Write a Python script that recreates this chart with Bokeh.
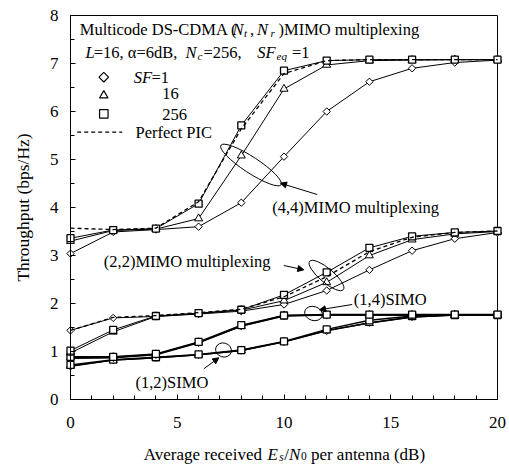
from bokeh.plotting import figure
from bokeh.models import Range1d, FixedTicker, Label, Arrow, NormalHead
from bokeh.embed import file_html
from bokeh.resources import INLINE

# ---------------- data ----------------
snr_db = [0, 2, 4, 6, 8, 10, 12, 14, 16, 18, 20]

mimo44_sf1 = [3.04, 3.49, 3.54, 3.60, 4.10, 5.06, 6.00, 6.62, 6.90, 7.02, 7.07]
mimo44_sf16 = [3.30, 3.52, 3.55, 3.77, 5.08, 6.47, 6.97, 7.06, 7.07, 7.08, 7.08]
mimo44_sf256 = [3.36, 3.53, 3.56, 4.08, 5.71, 6.85, 7.06, 7.08, 7.08, 7.08, 7.08]
mimo44_pic = [3.57, 3.54, 3.57, 4.12, 5.64, 6.79, 7.06, 7.08, 7.08, 7.08, 7.08]

mimo22_sf1 = [1.44, 1.70, 1.73, 1.78, 1.84, 1.98, 2.27, 2.70, 3.10, 3.35, 3.48]
mimo22_sf16 = [0.97, 1.41, 1.73, 1.79, 1.86, 2.06, 2.44, 3.00, 3.33, 3.45, 3.50]
mimo22_sf256 = [1.02, 1.45, 1.74, 1.80, 1.87, 2.18, 2.65, 3.16, 3.40, 3.48, 3.51]
mimo22_pic = [1.44, 1.71, 1.75, 1.81, 1.88, 2.14, 2.56, 3.08, 3.38, 3.48, 3.51]

simo14_sf1 = [0.86, 0.87, 0.93, 1.18, 1.53, 1.74, 1.76, 1.76, 1.76, 1.76, 1.76]
simo14_sf16 = [0.87, 0.88, 0.94, 1.19, 1.53, 1.75, 1.76, 1.76, 1.76, 1.76, 1.76]
simo14_sf256 = [0.89, 0.89, 0.95, 1.20, 1.55, 1.75, 1.77, 1.77, 1.77, 1.77, 1.77]

simo12_sf1 = [0.69, 0.82, 0.87, 0.93, 1.02, 1.20, 1.43, 1.60, 1.72, 1.76, 1.76]
simo12_sf16 = [0.70, 0.82, 0.87, 0.93, 1.02, 1.20, 1.44, 1.59, 1.72, 1.76, 1.76]
simo12_sf256 = [0.72, 0.83, 0.88, 0.94, 1.03, 1.21, 1.46, 1.65, 1.74, 1.76, 1.76]

x_major = [0, 5, 10, 15, 20]
x_minor = list(range(0, 21))
y_major = [0, 1, 2, 3, 4, 5, 6, 7, 8]
y_minor = [i * 0.5 for i in range(17)]

FONT = "Liberation Serif"

# ---------------- layout geometry (pixels) ----------------
W, H = 509, 464
PX_X = 21.35   # pixels per dB
PX_Y = 48.0    # pixels per bps/Hz
X0 = 70        # pixel column of 0 dB
Y0 = 399       # pixel row of 0 bps/Hz
TEXT_SHIFT = 5.5  # compensation for where Bokeh puts the text baseline

# the frame covers the whole canvas; the axes are pinned at 0
p = figure(width=W, height=H,
           x_range=Range1d(-X0 / PX_X, (W - X0) / PX_X),
           y_range=Range1d((Y0 - H) / PX_Y, Y0 / PX_Y),
           output_backend="svg", toolbar_location=None,
           min_border_left=0, min_border_right=0, min_border_top=0, min_border_bottom=0)
p.background_fill_color = "white"
p.border_fill_color = "white"
p.outline_line_color = None
p.xgrid.visible = False
p.ygrid.visible = False

for ax in (p.xaxis[0], p.yaxis[0]):
    ax.axis_line_color = "black"
    ax.major_tick_line_color = "black"
    ax.minor_tick_line_color = "black"
    ax.major_tick_in = 5
    ax.major_tick_out = 0
    ax.minor_tick_in = 4
    ax.minor_tick_out = 0
    ax.major_label_text_font = FONT
    ax.major_label_text_font_size = "17px"
    ax.major_label_text_color = "black"

p.xaxis.ticker = FixedTicker(ticks=x_major, minor_ticks=x_minor)
p.yaxis.ticker = FixedTicker(ticks=y_major, minor_ticks=y_minor)
p.xaxis.fixed_location = 0
p.yaxis.fixed_location = 0
p.xaxis.bounds = (0, 20)
p.yaxis.bounds = (0, 8)
p.xaxis.major_label_standoff = 17
p.yaxis.major_label_standoff = 12
p.yaxis.axis_label = "Throughput (bps/Hz)"
p.yaxis.axis_label_text_font = FONT
p.yaxis.axis_label_text_font_size = "17.5px"
p.yaxis.axis_label_text_font_style = "normal"
p.yaxis.axis_label_text_color = "black"
p.yaxis.axis_label_standoff = 14

# frame border (top and right)
p.line([0, 20], [8, 8], line_color="black", line_width=1)
p.line([20, 20], [0, 8], line_color="black", line_width=1)

# pixel -> data helpers for annotations
def X(px):
    return (px - X0) / PX_X

def Y(py):
    return (Y0 - py) / PX_Y

DIAMOND = dict(marker="square", angle=0.785398)

def series(vals, kind, lw=1.0):
    p.line(snr_db, vals, line_color="black", line_width=lw)
    if kind == "d":
        p.scatter(snr_db, vals, size=5.2, fill_color="white", line_color="black", line_width=1, **DIAMOND)
    elif kind == "t":
        p.scatter(snr_db, vals, marker="triangle", size=8, fill_color="white", line_color="black", line_width=1)
    else:
        p.scatter(snr_db, vals, marker="square", size=7, fill_color="white", line_color="black", line_width=1.3)

for grp, lw in [((simo12_sf1, simo12_sf16, simo12_sf256), 1.4), ((simo14_sf1, simo14_sf16, simo14_sf256), 1.4),
                ((mimo22_sf1, mimo22_sf16, mimo22_sf256), 1.0), ((mimo44_sf1, mimo44_sf16, mimo44_sf256), 1.0)]:
    series(grp[0], "d", lw)
    series(grp[1], "t", lw)
    series(grp[2], "s", lw)

for pic in (mimo22_pic, mimo44_pic):
    p.line(snr_db, pic, line_color="black", line_width=1.3, line_dash="4 3")

# ---------------- texts ----------------
def put(text, px, py, size=16.5, italic=False):
    p.add_layout(Label(x=X(px), y=Y(py - TEXT_SHIFT), text=text, text_font=FONT,
                       text_font_size=f"{size}px",
                       text_font_style="italic" if italic else "normal",
                       text_color="black", text_baseline="alphabetic", text_align="left"))

SUB = 11.0
# line 1
put("Multicode DS-CDMA (", 79.3, 34)
put("N", 232, 34, italic=True)
put("t", 243.5, 38, size=SUB, italic=True)
put(",", 249.5, 34)
put("N", 256.5, 34, italic=True)
put("r", 270, 38, size=SUB, italic=True)
put(")MIMO multiplexing", 278, 34)
# line 2
put("L", 85, 57, italic=True)
put("=16, \u03b1=6dB,", 93.3, 57)
put("N", 185, 57, italic=True)
put("c", 197, 61, size=SUB, italic=True)
put("=256,", 203, 57)
put("SF", 256.7, 57, italic=True)
put("eq", 276, 61, size=SUB, italic=True)
put("=1", 291.5, 57)
# legend
put("SF", 133.3, 82.5, italic=True)
put("=1", 151, 82.5)
put("16", 161.7, 98.5)
put("256", 161.7, 119)
put("Perfect PIC", 135, 137)
p.scatter([X(103.3)], [Y(76.7)], size=6.8, fill_color="white", line_color="black", line_width=1.2, **DIAMOND)
p.scatter([X(103.3)], [Y(95)], marker="triangle", size=8.5, fill_color="white", line_color="black", line_width=1.2)
p.scatter([X(103.3)], [Y(113.3)], marker="square", size=8.5, fill_color="white", line_color="black", line_width=1.2)
p.line([X(76.7), X(121.7)], [Y(131.7), Y(131.7)], line_color="black", line_width=1.3, line_dash="4 3")

# annotations
put("(4,4)MIMO multiplexing", 271.7, 212.5)
put("(2,2)MIMO multiplexing", 103.3, 266.5)
put("(1,4)SIMO", 353.3, 304)
put("(1,2)SIMO", 135, 387.5)

def ell(cx, cy, w, h, ang):
    p.ellipse(x=[X(cx)], y=[Y(cy)], width=w, height=h, angle=ang,
              width_units="screen", height_units="screen",
              fill_color=None, line_color="black", line_width=1)

ell(250.5, 164.5, 72, 16, -0.58)
ell(326, 275, 44, 14, -0.70)
ell(313, 313, 18, 14, -0.3)
ell(223, 349.5, 16, 14, -0.3)

def arrow(x0, y0, x1, y1):
    p.add_layout(Arrow(end=NormalHead(size=6, fill_color="black", line_color="black"),
                       x_start=X(x0), y_start=Y(y0), x_end=X(x1), y_end=Y(y1),
                       line_color="black", line_width=1))

arrow(316.7, 194, 280, 182.7)
arrow(283.3, 265, 303.3, 269.3)
arrow(351.7, 304, 319, 309.3)
arrow(203.3, 368.3, 218.3, 357.3)

# x-axis title with italic / subscript parts
REG = {' ': 250, '(': 333, ')': 333, '/': 278, '0': 500, 'A': 722, 'B': 667, 'D': 722,
       'a': 444, 'c': 444, 'd': 500, 'e': 444, 'g': 500, 'i': 278, 'n': 500, 'p': 500,
       'r': 333, 't': 278, 'v': 500}
ITA = {'E': 611, 'N': 667, 's': 389}

def tw(s, italic=False):
    tab = ITA if italic else REG
    return sum(tab.get(ch, 500) for ch in s) / 1000.0

fs = 17.0
xb = 143.3
yb = 459
parts = [("Average received", False, fs, 0, 0.25 * fs), ("E", True, fs, 0, 1.5), ("s", True, 11.5, 3, 0.5),
         ("/", False, fs, 0, 0), ("N", True, fs, 0, 0.5), ("0", False, 11.5, 1.5, 0.25 * fs),
         ("per antenna (dB)", False, fs, 0, 0)]
for txt, it, size, dyy, gap in parts:
    put(txt, xb, yb + dyy, size=size, italic=it)
    xb += tw(txt, it) * size + gap

open("out.html", "w").write(file_html(p, INLINE))
